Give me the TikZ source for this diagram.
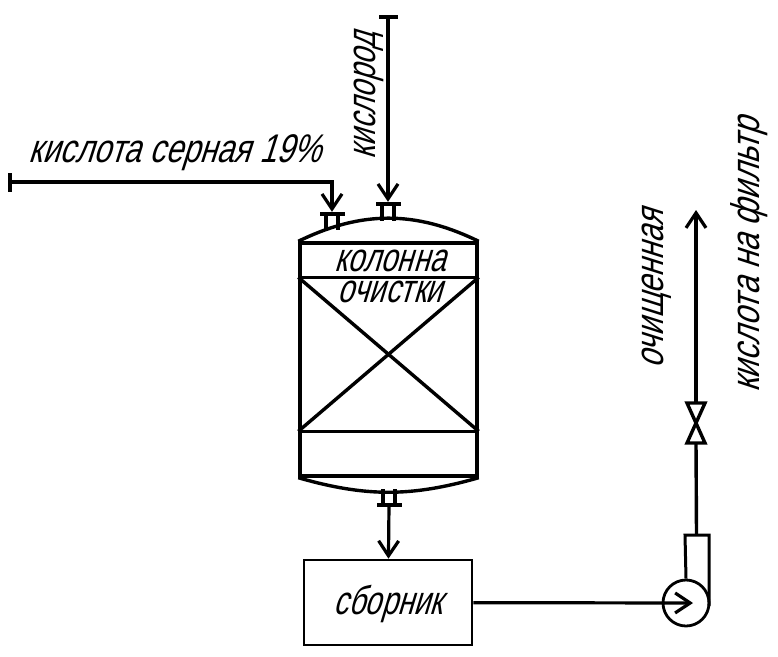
\documentclass[tikz,border=0pt]{standalone}
\usepackage{fontspec}
\newfontfamily\gostfont[FakeSlant=0.3, FakeStretch=0.73]{Liberation Sans}
\usetikzlibrary{arrows.meta, positioning, calc}

\begin{document}
\begin{tikzpicture}[
        x=1pt, y=-1pt,
        box/.style={rectangle, draw=black, line width=3.4pt, inner sep=0pt},
        flange/.style={rectangle, fill=black, inner sep=0pt, minimum width=25pt, minimum height=4pt},
        endbar/.style={rectangle, fill=black, inner sep=0pt, minimum width=3.4pt, minimum height=19pt},
        pipe/.style={line width=3.4pt},
        arrow/.style={-{Straight Barb[length=15pt, width=20pt, line width=3.2pt]}, line width=3.2pt},
        label/.style={font=\gostfont\fontsize{40}{31}\selectfont, inner sep=0pt, align=center}
    ]
    \useasboundingbox (0,0) rectangle (778,656);

    % Nodes
    \node[box, minimum width=177pt, minimum height=233pt] (column) at (388.5,359.5) {};
    \node[box, minimum width=168pt, minimum height=85pt, line width=2.6pt] (collector) at (388,602.5) {};
    \node[box, circle, minimum size=46pt, line width=2.8pt] (pump) at (686,603) {};
    \node[flange] (flangeA) at (332,214) {};
    \node[flange] (flangeB) at (388,204) {};
    \node[flange] (flangeC) at (389,505) {};
    \node[endbar] (acidend) at (10,182) {};
    \node[endbar, rotate=90] (oxygenend) at (388,17) {};
    \coordinate (pumptip) at (693,603);
    \coordinate (casing) at (696.5,535);
    \coordinate (valve) at (696,423);
    \coordinate (outlet) at (696,210);

    % Texts
    \node[label, xscale=1.06] (acidtext) at (175,153) {кислота серная 19\%};
    \node[label, rotate=90] (oxygentext) at (369,96) {кислород};
    \node[label] (columntext) at (390,276) {колонна\\очистки};
    \node[label] (collectortext) at (388,604) {сборник};
    \node[label, rotate=90, xscale=1.05] (cleantext) at (657,289) {очищенная};
    \node[label, rotate=90, xscale=1.08] (filtertext) at (749,255.5) {кислота на фильтр};

    % Column
    \draw[pipe] (column.north west) to[bend left=26] (column.north east);
    \draw[pipe] (column.south west) to[bend right=16] (column.south east);
    \coordinate (bandaw) at ($(column.north west)+(0,36)$);
    \coordinate (bandae) at ($(column.north east)+(0,36)$);
    \coordinate (bandbw) at ($(column.north west)+(0,190)$);
    \coordinate (bandbe) at ($(column.north east)+(0,190)$);
    \draw[pipe] (bandaw) -- (bandae);
    \draw[pipe, line width=2.4pt] (bandbw) -- (bandbe);
    \draw[pipe] (bandaw) -- (bandbe);
    \draw[pipe] (bandae) -- (bandbw);

    % Nozzles
    \foreach \f/\l in {flangeA/16, flangeB/17, flangeC/-16} {
        \draw[pipe] ([xshift=-6pt]\f.center) -- +(0,\l);
        \draw[pipe] ([xshift=6pt]\f.center) -- +(0,\l);
    }

    % Arrows
    \draw[arrow] (acidend) -| (flangeA);
    \draw[arrow] (oxygenend) -- (flangeB);
    \draw[arrow] (flangeC) -- (collector);
    \draw[arrow] (collector) -- (pumptip);

    % Pump and valve
    \draw[pipe, line width=3pt] (pump.north) -- (685,535) -- (709,535) -- (709,606);
    \draw[pipe, line join=miter] ($(valve)+(-9,-20)$) -- ($(valve)+(9,-20)$) -- ($(valve)+(-9,20)$) -- ($(valve)+(9,20)$) -- cycle;
    \draw[pipe] (casing) -- ($(valve)+(0,20)$);
    \draw[arrow] ($(valve)+(0,-20)$) -- (outlet);

\end{tikzpicture}
\end{document}
